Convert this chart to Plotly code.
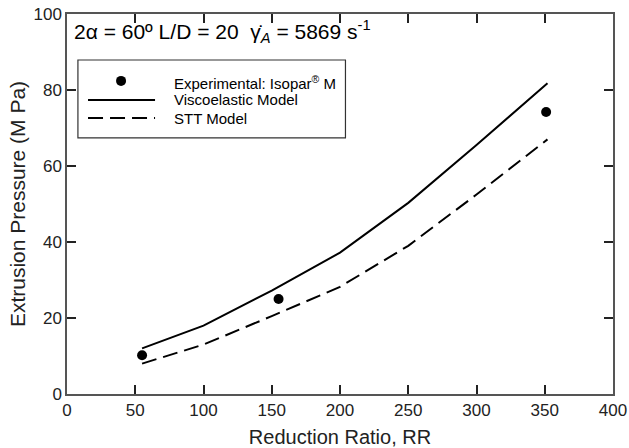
import plotly.graph_objects as go

# Data
exp_rr = [55, 155, 351]
exp_p = [10.2, 25.0, 74.2]

model_rr = [55, 100, 150, 200, 250, 300, 352]
visco_p = [12.0, 18.0, 27.2, 37.2, 50.3, 65.5, 81.8]
stt_p = [8.0, 13.0, 20.5, 28.2, 39.0, 52.5, 67.0]

FONT = "Arial, Liberation Sans, Helvetica, sans-serif"

fig = go.Figure()
fig.add_trace(go.Scatter(x=model_rr, y=visco_p, mode="lines",
                         line=dict(color="black", width=2), name="Viscoelastic Model"))
fig.add_trace(go.Scatter(x=model_rr, y=stt_p, mode="lines",
                         line=dict(color="black", width=2, dash="15px,7px"), name="STT Model"))
fig.add_trace(go.Scatter(x=exp_rr, y=exp_p, mode="markers",
                         marker=dict(color="black", size=10), name="Experimental: Isopar® M"))
fig.add_trace(go.Scatter(x=[39.6], y=[82.4], mode="markers", marker=dict(color="black", size=10),
                         showlegend=False, hoverinfo="skip"))

shapes = [
    dict(type="rect", xref="x", yref="y", x0=8, x1=204, y0=67.4, y1=87.9,
         line=dict(color="#333", width=1.2), fillcolor="rgba(0,0,0,0)", layer="above"),
    dict(type="line", xref="x", yref="y", x0=15.4, x1=64.5, y0=77.4, y1=77.4,
         line=dict(color="black", width=2), layer="above"),
    dict(type="line", xref="x", yref="y", x0=15.4, x1=64.5, y0=72.6, y1=72.6,
         line=dict(color="black", width=2, dash="15px,7px"), layer="above"),
]
annotations = [
    dict(x=3.7, y=95.5, xref="x", yref="y", xanchor="left", yanchor="middle", showarrow=False,
         text="2α = 60º L/D = 20  γ̇<sub><i>A</i></sub> = 5869 s<sup>-1</sup>",
         font=dict(family=FONT, size=21, color="black")),
    dict(x=77, y=82.0, xref="x", yref="y", xanchor="left", yanchor="middle", showarrow=False,
         text="Experimental: Isopar<sup>®</sup> M", font=dict(family=FONT, size=15, color="black")),
    dict(x=77, y=77.4, xref="x", yref="y", xanchor="left", yanchor="middle", showarrow=False,
         text="Viscoelastic Model", font=dict(family=FONT, size=15, color="black")),
    dict(x=77, y=72.6, xref="x", yref="y", xanchor="left", yanchor="middle", showarrow=False,
         text="STT Model", font=dict(family=FONT, size=15, color="black")),
]

axis_common = dict(showgrid=False, zeroline=False, showline=True, linecolor="#555555", linewidth=1.5,
                   mirror="allticks", ticks="inside", ticklen=9, tickwidth=1.8, tickcolor="#222222",
                   automargin=False,
                   tickfont=dict(family=FONT, size=17, color="#222"))

fig.update_layout(
    width=629, height=448,
    margin=dict(l=67, r=16, t=14, b=54, autoexpand=False),
    paper_bgcolor="white", plot_bgcolor="white",
    showlegend=False,
    shapes=shapes, annotations=annotations,
    xaxis=dict(range=[0, 400], dtick=50,
               title=dict(text="Reduction Ratio, RR", font=dict(family=FONT, size=20, color="#222"), standoff=14),
               **axis_common),
    yaxis=dict(range=[0, 100], dtick=20,
               title=dict(text="Extrusion Pressure (M Pa)", font=dict(family=FONT, size=21, color="#222"), standoff=2),
               **axis_common),
)

fig.write_html("out.html")
